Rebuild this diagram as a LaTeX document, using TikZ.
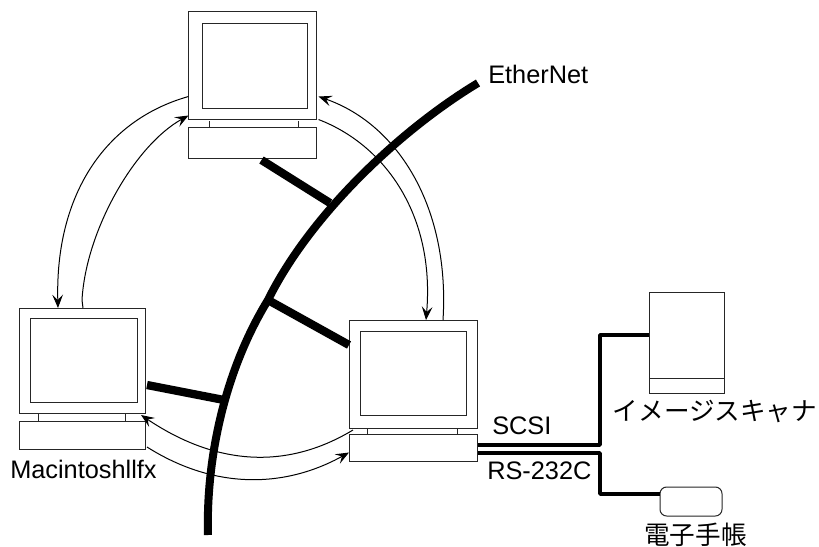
\documentclass[tikz,border=0pt]{standalone}
\usepackage{fontspec}
\setmainfont{Liberation Sans}
\newfontfamily\cjk{Noto Sans CJK JP}
\usetikzlibrary{arrows.meta,calc}
\tikzset{
  x=0.75pt,y=-0.75pt,
  boxline/.style={draw=black!85,line width=0.75pt,fill=white,inner sep=0pt,outer sep=0pt},
  outerbox/.style={boxline,minimum width=96pt,minimum height=81pt},
  screen/.style={boxline,minimum width=79pt,minimum height=63pt},
  basebox/.style={boxline,minimum width=96pt,minimum height=22pt},
  foot/.style={draw=black!85,line width=0.5pt},
  link/.style={draw=black,line width=0.75pt},
  linkarrow/.style={link,-{Stealth[length=10pt,width=8pt,inset=4pt]}},
  branch/.style={draw=black,line width=6.2pt},
  bus/.style={draw=black,line width=6pt},
  cable/.style={draw=black,line width=2.8pt,line join=round},
  lab/.style={font=\fontsize{19}{22}\selectfont,inner sep=0pt,anchor=base west},
  jlab/.style={font=\cjk\fontsize{19.2}{22}\selectfont,inner sep=0pt,anchor=center},
}
\begin{document}
\begin{tikzpicture}
\useasboundingbox (0,0) rectangle (819,547);
% top computer
\node[outerbox] (topm) at (252.5,65.5) {};
\node[screen,minimum width=78.75pt,minimum height=63.75pt] (tops) at (254.5,65.5) {};
\node[basebox,minimum height=23.25pt] (topb) at (252.5,142.5) {};
\draw[foot] (209,121) -- (209,127);
\draw[foot] (298,121) -- (298,127);
% left computer
\node[outerbox,minimum width=94.5pt,minimum height=78.75pt] (leftm) at (82,360.5) {};
\node[screen,minimum width=80.25pt,minimum height=63pt] (lefts) at (83.5,360) {};
\node[basebox,minimum width=94.5pt,minimum height=21pt] (leftb) at (82,435) {};
\draw[foot] (38,413) -- (38,421);
\draw[foot] (125,413) -- (125,421);
% right computer
\node[outerbox] (rightm) at (413,374) {};
\node[screen,minimum width=79.5pt,minimum height=63pt] (rights) at (413,373) {};
\node[basebox,minimum height=20.25pt] (rightb) at (413,447.5) {};
\draw[foot] (367,428) -- (367,434);
\draw[foot] (457,428) -- (457,434);
% scanner
\node[boxline,minimum width=56.25pt,minimum height=64.5pt] (scan) at (686.5,335) {};
\node[boxline,minimum width=56.25pt,minimum height=11.25pt] (scanb) at (686.5,385.5) {};
% PDA
\node[boxline,rounded corners=5pt,minimum width=46.5pt,minimum height=21.75pt] (pda) at (691,501.5) {};
% free points on the bus
\coordinate (busend1) at (208,535);
\coordinate (busend2) at (478,83);
\coordinate (tapT) at (330,203);
\coordinate (tapR) at (268,300);
\coordinate (tapL) at (224,400);
% ring links
\draw[linkarrow] ($(topm.north west)+(0,85)$) .. controls (105,120) and (55,195) .. ($(leftm.north west)+(39,0)$);
\draw[link] ($(leftm.north west)+(64,0)$) -- ($(leftm.north west)+(63,-8)$);
\draw[linkarrow] ($(leftm.north west)+(63,-8)$) .. controls (86,230) and (135,145) .. ($(topm.south west)+(0,-4)$);
\draw[linkarrow] ($(rightm.north east)+(-34,0)$) .. controls (450,210) and (400,125) .. ($(topm.north east)+(2,85)$);
\draw[linkarrow] ($(topm.south east)+(2,0)$) .. controls (385,145) and (435,215) .. ($(rightm.north west)+(77,0)$);
\draw[linkarrow] ($(rightm.south west)+(4,2)$) .. controls (290,468) and (220,468) .. ($(leftm.south east)+(-4,2)$);
\draw[linkarrow] ($(leftb.south east)+(2,-2)$) .. controls (215,490) and (285,488) .. ($(rightb.west)+(0,5)$);
% ethernet bus
\draw[bus] (busend1) .. controls (206,465) and (222,375) .. (tapR) .. controls (310,215) and (400,130) .. (busend2);
\draw[branch] ($(topb.south)+(9,2)$) -- (tapT);
\draw[branch] ($(rightm.west)+(0,-29)$) -- (tapR);
\draw[branch] ($(leftm.east)+(2,24.5)$) -- (tapL);
% serial cables
\draw[cable] ($(rightb.east)+(1,-2.5)$) -| (600,335) -- ($(scan.north west)+(0,43)$);
\draw[cable] ($(rightb.east)+(1,5.5)$) -| (600,494) -- ($(pda.west)+(0,-7.5)$);
% labels
\node[lab] (ethl) at (488,83) {EtherNet};
\node[lab] (macl) at (10,478) {Macintoshllfx};
\node[lab] (scsil) at (492,434) {SCSI};
\node[lab] (rsl) at (487,479) {RS-232C};
\node[jlab] (scanl) at (715,411) {イメージスキャナ};
\node[jlab] (pdal) at (695.5,535) {電子手帳};
\end{tikzpicture}
\end{document}
